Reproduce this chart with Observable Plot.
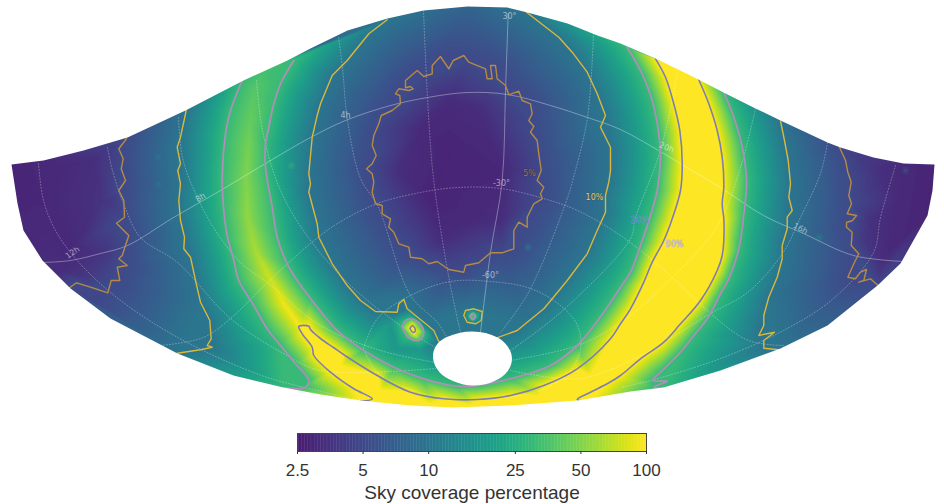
<!DOCTYPE html>
<html><head><meta charset="utf-8">
<script src="https://cdn.jsdelivr.net/npm/d3@7"></script>
<script src="https://cdn.jsdelivr.net/npm/@observablehq/plot@0.6"></script>
<style>html,body{margin:0;padding:0;background:#fff}svg{display:block}</style>
</head><body><div id="chart"></div>
<script>
// Sky map, in map units
const outlineBottom=[[11,164],[17,203],[23,230],[42,260],[70,288],[110,318],[177,353],[233,375],[283,387],[320,394],[360,400],[410,405],[453,407],[510,405],[577,400],[630,391],[663,387],[720,370],[780,348],[827,325],[877,285],[900,263],[927,215],[932,190],[934,164]];
const outlineTop=[[934,164],[903,163],[873,157],[840,147],[827,142],[780,120],[755,108],[723,92],[698,79],[655,58],[620,43],[597,35],[567,23],[527,12],[507,7],[467,6],[423,10],[387,18],[347,30],[310,48],[287,60],[243,80],[185,110],[127,137],[83,150],[43,160],[11,164]];
const hole=[[433.3,357.7],[436.7,345],[446.7,337.3],[472,331.7],[496.7,337.7],[506.7,346.7],[510.7,357.7],[506.7,370],[493.3,380],[472,384.3],[453.3,380],[440,371.7]];

const c5center=[[371.7,173.3],[366,168.3],[371.7,163.3],[375.7,155],[371.7,145],[373.3,135],[378.3,123.3],[380.7,115],[391.7,110],[400,103.3],[399.3,95],[395,93.3],[398.3,88.3],[408.3,90],[412.7,88.3],[410,86],[405,87.3],[405,80],[416.7,70],[423.3,76],[431.7,73.3],[431.7,65],[440,56],[448.3,68.3],[452.7,60],[463.3,55],[468.3,61.7],[485,68.3],[486.7,78.3],[491.7,78.3],[490,65],[495,65],[496.7,78.3],[505,85],[508.3,94.3],[518.3,90.7],[521.7,100],[530,103.3],[531.7,113.3],[528.3,120],[533.3,126],[530,131.7],[536.7,140],[538.3,153.3],[540.7,170],[536.7,180],[543.3,186.7],[540,193.3],[541.7,198.3],[533.3,203.3],[526.7,216.7],[526.7,226.7],[518.3,221.7],[513.3,230],[513.3,248.3],[501.7,252.3],[490,252.3],[478.3,262.3],[465,265],[463.3,271.7],[448.3,269],[436.7,261],[428.3,263.3],[421.7,258.3],[410,256.7],[408.3,246.7],[398.3,243.3],[393.3,231.7],[388.3,226.7],[390,218.3],[381.7,213.3],[381.7,205],[375,203.3],[371.7,191.7],[373.3,181.7],[371.7,173.3]];
const c5left=[[126,138.3],[118.3,148.3],[122.7,158.3],[120.7,168.3],[125,180],[118.3,190],[123.3,200],[124,216.7],[116,222.7],[128.3,235],[125,245],[121.7,255],[118.3,258.3],[126.7,265],[116.7,266.7],[119.3,280],[110.7,280],[107.3,292.3],[90,286.7],[76,282.3],[69,287.3]];
const c5right=[[839,146.7],[845,160],[847.3,171.7],[850.7,181.7],[848.3,195],[851,203.3],[846.7,213.3],[856,215],[852,220],[846,222],[846,226.7],[851.7,231.7],[850.7,245],[858.3,253.3],[853.3,263.3],[847.3,276.7],[855,278.3],[860,271.7],[866,269],[863.3,280],[858.3,281.7],[870,278.3],[878.3,285.7]];

const c10left=[[185.7,110],[180,136.7],[176.7,146.7],[180,163.3],[177.3,170],[180,183.3],[178.3,200],[180,220],[184,236.7],[183.3,248.3],[190,256.7],[195,280],[200,301.7],[209.3,320],[210.7,338.3],[206.7,345],[211.7,346.7],[200,349.3],[176.7,352.7]];
const c10oval=[[386.7,19.3],[368.3,33.3],[346.7,60],[331.7,75],[320,103.3],[316.7,115],[311.7,136.7],[308.3,173.3],[310,183.3],[308.3,191.7],[316.7,223.3],[318.3,236.7],[331.7,263.3],[346.7,285],[360,300],[375,311],[396.7,311.7],[398.3,303.3],[403.3,299],[406.7,308.3],[423.3,321.7],[433.3,330],[438.3,341],[472,345],[498.3,336.7],[516.7,330],[526.7,321.7],[543.3,308.3],[551.7,298.3],[566.7,280],[586.7,253.3],[596.7,230],[605,211.7],[605,195],[608.3,181.7],[610,170],[610,146.7],[600,126.7],[605,115],[596.7,93.3],[586.7,71.7],[571.7,51.7],[558.3,36.7],[536.7,20],[526,11.7]];
const c10island=[[463.3,315],[465,310],[473.3,308.3],[481.7,311],[480.7,320],[475,323.3],[466.7,321.7],[463.3,315]];
const c10right=[[780,120.7],[784,140],[787.7,160],[790,183.3],[788.3,196.7],[791.7,210],[786.7,216.7],[786.7,228.3],[781.7,245],[781.7,258.3],[776.7,276.7],[768.3,296.7],[763.3,315],[763.3,325],[758.3,335],[774,331.7],[763.3,340],[763.3,347.7],[778.3,349.3]];

const c30outerLeft=[[241.7,80],[230,110],[225,133.3],[221.7,176.7],[223.3,210],[226.7,235],[233.3,260],[238.3,280],[253.3,305],[266.7,328.3],[280,345],[295,363.3],[308.3,380],[305,386.7],[283.3,387.3]];
const c30inner=[[293.3,60],[280,83.3],[273.3,103.3],[268.3,126.7],[265,143.3],[265,166.7],[271.7,206.7],[276.7,236.7],[286.7,263.3],[296.7,280],[310,298],[335,328.3],[363.3,350],[393.3,366.7],[423.3,378.3],[456.7,385.7],[476.7,385],[510,378.3],[550,365],[576.7,345],[603.3,311.7],[620,286.7],[630,271.7],[640,245],[650,215],[656.7,190],[660,156.7],[658.3,133.3],[651.7,100],[641.7,73.3],[626.7,46.7]];
const c30outerRight=[[723.3,91.7],[733.3,116.7],[741.7,146.7],[746,180],[743.3,214],[738.3,248.3],[728.3,278.3],[720,293.3],[706.7,318.3],[693.3,335],[680,351.7],[660,371.7],[651.7,380],[666.7,380.7],[653.3,386.7],[663.3,387.7]];
const c30source=[[401.7,326.7],[404,321],[410,318.3],[418,322],[423.3,331.7],[421,338],[416.7,340],[408,337],[401.7,326.7]];
const c30island=[[469.5,316],[472.3,313],[475,316],[472.3,319],[469.5,316]];

const c90main=[[655,58.3],[665,76.7],[673.3,103.3],[679.3,130],[681.7,163.3],[680,190],[671.7,218.3],[663.3,240],[651.7,261.7],[643.3,281.7],[630,308.3],[620,323.3],[610,338.3],[576.7,368.3],[543.3,385],[510,395],[476.7,399],[443.3,398.3],[410,391.7],[376.7,375],[343,354],[333,347],[320,338],[310,329],[308.3,325.7],[298.3,326],[301.7,333.3],[311.7,346.7],[313.3,355],[330,371.7],[353.3,388.3],[371.7,398.3],[360,400.7]];
const c90right=[[698.3,79.3],[708.3,103.3],[716.7,130],[721.7,156.7],[723.3,186.7],[721.7,203.3],[723.5,221],[721.7,255],[716.7,270],[700,300],[680,323.3],[663.3,341.7],[640,358.3],[620,375],[606.7,383.3],[590,391.7],[576.7,399],[588,401]];
const c90source=[[409.5,328],[412,325],[415,330],[412.5,332],[409.5,328]];

// Extra coverage readings between the contours: x, y, percent
const readings=[
 [11,164,2.8],[15,180,2.8],[40,200,2.9],[70,250,3],[100,200,3.5],[60,165,3],[95,160,3.3],[90,300,4.6],[43,160,3],[105,150,3.8],[110,200,3.7],[105,250,3.7],[80,275,3.6],[60,270,3.2],
 [934,164,2.8],[925,215,2.8],[900,200,3],[880,170,3.3],[890,250,3],[878,260,3.4],[860,160,4],[905,165,3],[870,220,3.4],[865,240,3.6],[880,270,3.6],
 [450,150,2.8],[430,200,2.8],[470,220,3],[500,170,2.9],[450,100,3.1],[420,130,3],[480,110,3.2],[400,170,3.2],[500,220,3.2],[440,240,3.2],
 [467,6,7.5],
 [265,68,33],[254,90,38],[250,120,42],[248,150,47],[246,180,50],[247,215,54],[255,250,62],[268,275,75],[283,303,92],[298,326,90],
 [680,70,100],[695,110,100],[702,150,100],[702,190,100],[700,230,100],[690,270,100],[665,310,100],[630,345,100],[590,375,100],[540,395,100],[470,405,100],[430,404,100],[380,390,100],[340,365,100],[320,345,100],[306,330,100],[560,402,100],[520,404,100],
 [472,316,38],[472,358,15],
 [412,328.5,100],[405,327,60],[412,321,60],[420,331,60],[415,337,60],[390,322,17],[396,348,17],[420,350,17],[433,340,14]
];
// Small bright spots
const spots=[[291,165,30],[158,157,12],[158,184,12],[527.7,246.7,15],[905,170,8],[819,237,14]];

// Graticule
const gridSolid=[
 [[43,262],[70,260],[100,253],[127,245],[173,217],[220,190],[270,160],[310,137],[345,120],[390,105],[427,97],[467,92],[507,94],[550,105],[587,117],[620,129],[658,150],[683,165],[720,187],[763,215],[803,233],[853,255],[903,261]],
 [[507.7,13],[505,90],[501.7,180],[490,252],[480,332]]
];
const gridDotted=[
 [[363,348],[377,318],[410,295],[450,281],[490,281],[530,288],[560,305],[577,325],[580,348],[570,370],[540,390],[490,398],[440,397],[400,385],[375,370],[363,348]],
 [[160,345],[203,337],[230,318],[267,282],[310,243],[337,223],[377,203],[420,192],[457,187],[500,188],[543,198],[577,210],[620,235],[672,277],[710,313],[748,340],[783,345]],
 [[338,37],[342,67],[347,120],[360,178],[377,205],[410,295],[437,322],[447,338]],
 [[423,10],[427,97],[433,178],[448,275],[460,332]],
 [[593,33],[587,117],[573,177],[565,203],[528,292],[500,332]],
 [[677,73],[660,150],[635,217],[630,238],[560,312],[510,350]],
 [[755,108],[740,167],[717,225],[672,277],[620,322],[577,345],[510,360]],
 [[827,142],[820,173],[800,217],[782,253],[747,292],[710,313],[640,355],[580,378],[510,370]],
 [[895,165],[880,217],[873,252],[833,298],[783,330],[720,358],[650,380],[620,387]],
 [[256,80],[262,130],[280,190],[310,240],[350,285],[400,325],[440,350]],
 [[178,117],[182,157],[195,193],[213,227],[240,262],[267,282],[320,325],[380,350],[435,362]],
 [[107,147],[112,170],[123,203],[140,237],[177,262],[230,318],[283,353],[320,370],[435,368]],
 [[38,163],[43,200],[55,230],[75,258],[110,292],[160,327],[213,355],[267,377],[317,390],[360,400]]
];

const hourLabels=[["4h",345,115,0],["8h",200,197,-30],["12h",72,252,-35],["20h",666,147,22],["16h",800,228,27]];
const decLabels=[["30°",509,16],["-30°",501,183],["-60°",490,275]];
const contourLabels=[["5%",529,173,"#a5794a","#2e2145"],["10%",594,197,"#e0cc70","#444444"],["30%",639,220,"#5583cc","#7fb0a8"],["90%",674,244,"#d6c8e4","#8d86a8"]];

const tickValues=[2.5,5,10,25,50,100];
const colorDomain=[2.5,100];
const logDomain=colorDomain.map(Math.log10);
const viridis=t=>d3.interpolateViridis(t+0.08*Math.pow(1-t,4));

const levels=[[5,[c5center,c5left,c5right],"#b58a45",1.4,"linear"],[10,[c10left,c10oval,c10island,c10right],"#d9b83c",1.4,"linear"],[30,[c30outerLeft,c30inner,c30outerRight,c30source,c30island],"#ab90b8",1.8,"catmull-rom"],[90,[c90main,c90right,c90source],"#7d7eb0",1.6,"catmull-rom"]];
const samples=[...readings.map(([x,y,v])=>({x,y,w:Math.log10(v)}))];
for(const [v,lines] of levels) for(const line of lines) for(const [x,y] of line) samples.push({x,y,w:Math.log10(v===90?100:v)});

const maskRing=[[-10,-10],[954,-10],[954,434],[-10,434],[-10,164],...outlineBottom,...outlineTop,[-10,164],[-10,-10]];
const X=d=>d[0],Y=d=>d[1];
const font="'DejaVu Sans',sans-serif";
const color={type:"linear",domain:logDomain,interpolate:viridis,clamp:true};

const map=Plot.plot({
 width:944,height:424,margin:0,
 x:{domain:[0,944],range:[0,944],axis:null},
 y:{domain:[0,424],range:[0,424],axis:null},
 color,
 style:{background:"transparent",fontFamily:font},
 marks:[
  Plot.raster(samples,{x:"x",y:"y",fill:"w",interpolate:"barycentric",pixelSize:1,x1:0,x2:944,y1:0,y2:424}),
  Plot.dot(spots,{x:X,y:Y,r:4,fill:d=>Math.log10(d[2]),fillOpacity:0.2}),
  Plot.dot(spots,{x:X,y:Y,r:2,fill:d=>Math.log10(d[2]),fillOpacity:0.3}),
  ...gridDotted.map(g=>Plot.line(g,{x:X,y:Y,curve:"catmull-rom",stroke:"#fff",strokeOpacity:0.38,strokeWidth:0.8,strokeDasharray:"1,2"})),
  ...gridSolid.map(g=>Plot.line(g,{x:X,y:Y,curve:"catmull-rom",stroke:"#fff",strokeOpacity:0.35,strokeWidth:1})),
  ...levels.flatMap(([v,lines,col,sw,curve])=>lines.map(l=>Plot.line(l,{x:X,y:Y,curve,stroke:col,strokeWidth:sw,strokeLinejoin:"round"}))),
  Plot.line(maskRing,{x:X,y:Y,fill:"white",stroke:"none"}),
  Plot.line(hole,{x:X,y:Y,fill:"white",stroke:"white",curve:"catmull-rom-closed"}),
  Plot.text(hourLabels,{x:d=>d[1],y:d=>d[2],text:d=>d[0],rotate:d=>d[3],fill:"#fff",fillOpacity:0.55,fontSize:8}),
  Plot.text(decLabels,{x:d=>d[1],y:d=>d[2],text:d=>d[0],fill:"#fff",fillOpacity:0.55,fontSize:8}),
  ...contourLabels.map(l=>Plot.text([l],{x:d=>d[1],y:d=>d[2],text:d=>d[0],fill:l[3],stroke:l[4],strokeOpacity:0.55,strokeWidth:0.8,paintOrder:"stroke",fontSize:8}))
 ]
});

const stops=d3.range(0,240).map(i=>colorDomain[0]*Math.pow(colorDomain[1]/colorDomain[0],i/240));
const legend=Plot.plot({
 width:944,height:80,marginLeft:297,marginRight:298,marginTop:9,marginBottom:53,
 x:{type:"log",domain:colorDomain},
 y:{domain:[0,1],axis:null},
 color,
 style:{background:"transparent",fontFamily:"'Liberation Sans',sans-serif",color:"#333"},
 marks:[
  Plot.rect(stops,{x1:d=>d,x2:d=>d*1.02,y1:0,y2:1,fill:d=>Math.log10(d),clip:true}),
  Plot.frame({stroke:"#444",strokeWidth:1}),
  Plot.axisX({ticks:tickValues,tickFormat:d=>String(d),tickSize:3,tickPadding:9,fontSize:17,label:null}),
  Plot.text(["Sky coverage percentage"],{x:[15.81],y:[0],dy:41,text:d=>d,fontSize:19,fill:"#333"})
 ]
});
document.getElementById("chart").append(map,legend);
</script></body></html>
